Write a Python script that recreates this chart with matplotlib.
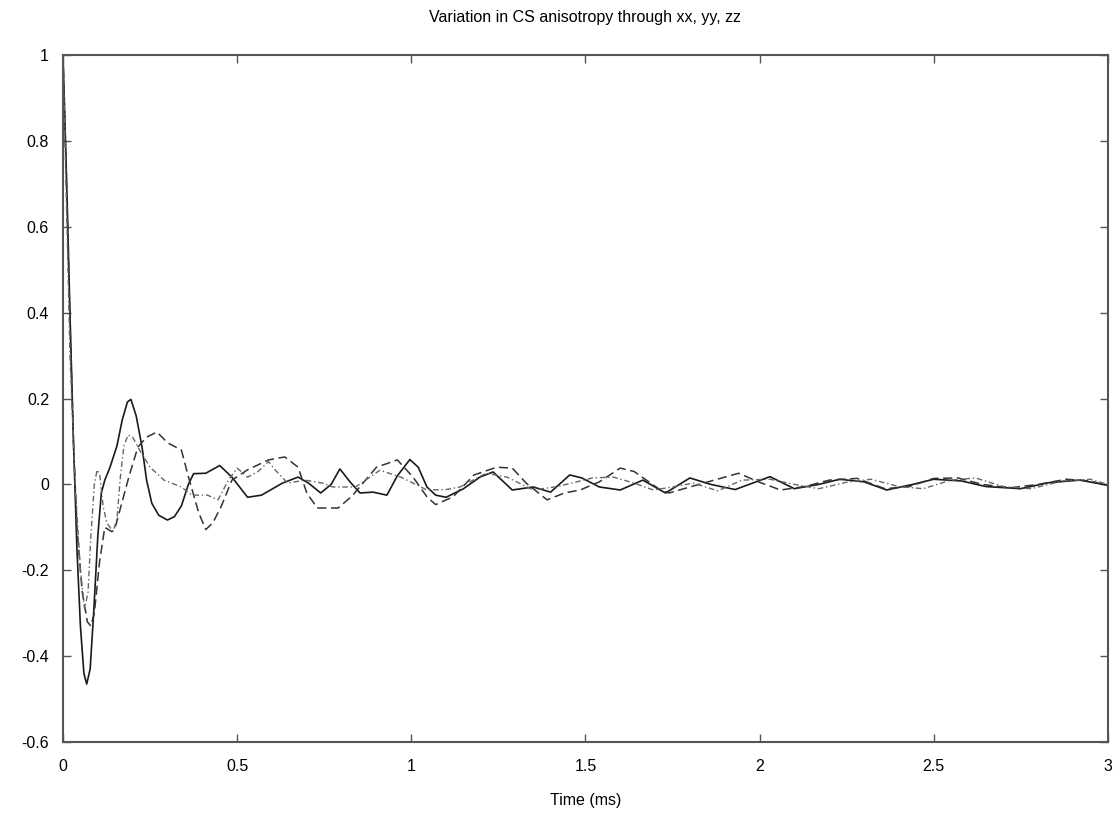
import matplotlib
matplotlib.use("Agg")
import matplotlib.pyplot as plt

title = "Variation in CS anisotropy through xx, yy, zz"
xlabel = "Time (ms)"
xticks = [0, 0.5, 1, 1.5, 2, 2.5, 3]
xtick_labels = ["0", "0.5", "1", "1.5", "2", "2.5", "3"]
yticks = [-0.6, -0.4, -0.2, 0, 0.2, 0.4, 0.6, 0.8, 1]
ytick_labels = ["-0.6", "-0.4", "-0.2", "0", "0.2", "0.4", "0.6", "0.8", "1"]

# solid series
xx_t = [0.000, 0.010, 0.020, 0.030, 0.040, 0.050, 0.060, 0.068, 0.078, 0.088,
        0.100, 0.110, 0.120, 0.135, 0.155, 0.170, 0.185, 0.195, 0.210, 0.227,
        0.240, 0.255, 0.275, 0.300, 0.320, 0.340, 0.360, 0.375, 0.410, 0.450,
        0.485, 0.530, 0.570, 0.630, 0.675, 0.705, 0.740, 0.770, 0.795, 0.825,
        0.853, 0.890, 0.930, 0.960, 0.996, 1.020, 1.045, 1.070, 1.100, 1.150,
        1.197, 1.235, 1.290, 1.350, 1.400, 1.455, 1.490, 1.540, 1.600, 1.665,
        1.730, 1.800, 1.860, 1.930, 2.030, 2.100, 2.170, 2.230, 2.300, 2.365,
        2.440, 2.500, 2.580, 2.650, 2.750, 2.830, 2.920, 3.000]
xx_v = [1.00, 0.72, 0.40, 0.10, -0.15, -0.33, -0.44, -0.465, -0.43, -0.30,
        -0.12, -0.02, 0.01, 0.04, 0.09, 0.15, 0.192, 0.198, 0.16, 0.087,
        0.01, -0.044, -0.072, -0.083, -0.075, -0.05, 0.00, 0.025, 0.026, 0.044,
        0.017, -0.03, -0.025, 0.003, 0.017, 0.003, -0.02, 0.00, 0.036, 0.005,
        -0.02, -0.018, -0.025, 0.02, 0.058, 0.04, -0.006, -0.025, -0.03, -0.01,
        0.017, 0.029, -0.013, -0.006, -0.018, 0.022, 0.015, -0.006, -0.013, 0.01,
        -0.02, 0.015, 0.0, -0.012, 0.018, -0.01, 0.0, 0.012, 0.006, -0.013,
        0.0, 0.012, 0.008, -0.005, -0.01, 0.004, 0.01, -0.002]

# dashed series
yy_t = [0.000, 0.010, 0.020, 0.030, 0.040, 0.055, 0.070, 0.080, 0.090, 0.105,
        0.120, 0.140, 0.150, 0.170, 0.190, 0.215, 0.240, 0.270, 0.300, 0.340,
        0.360, 0.390, 0.410, 0.430, 0.455, 0.485, 0.530, 0.590, 0.637, 0.675,
        0.700, 0.730, 0.790, 0.830, 0.900, 0.960, 1.005, 1.045, 1.070, 1.120,
        1.180, 1.245, 1.290, 1.330, 1.390, 1.440, 1.485, 1.540, 1.600, 1.640,
        1.675, 1.715, 1.740, 1.800, 1.870, 1.940, 2.000, 2.060, 2.130, 2.200,
        2.280, 2.360, 2.430, 2.500, 2.570, 2.640, 2.720, 2.800, 2.880, 2.950,
        3.000]
yy_v = [1.00, 0.70, 0.38, 0.10, -0.10, -0.25, -0.32, -0.33, -0.30, -0.18,
        -0.10, -0.11, -0.10, -0.04, 0.02, 0.087, 0.11, 0.122, 0.097, 0.08,
        0.018, -0.067, -0.105, -0.09, -0.05, 0.01, 0.034, 0.057, 0.064, 0.04,
        -0.02, -0.055, -0.055, -0.027, 0.04, 0.057, 0.017, -0.029, -0.047, -0.029,
        0.022, 0.04, 0.038, 0.003, -0.036, -0.02, -0.013, 0.006, 0.038, 0.03,
        0.01, -0.013, -0.02, -0.006, 0.01, 0.026, 0.005, -0.013, -0.005, 0.01,
        0.014, -0.01, -0.005, 0.014, 0.015, 0.0, -0.008, 0.0, 0.012, 0.008,
        -0.003]

# dash-dot series
zz_t = [0.000, 0.010, 0.020, 0.035, 0.050, 0.062, 0.072, 0.080, 0.090, 0.098,
        0.106, 0.115, 0.126, 0.144, 0.155, 0.165, 0.175, 0.187, 0.200, 0.220,
        0.250, 0.290, 0.340, 0.370, 0.415, 0.445, 0.475, 0.500, 0.530, 0.560,
        0.590, 0.610, 0.645, 0.695, 0.745, 0.775, 0.840, 0.910, 0.970, 1.045,
        1.100, 1.140, 1.215, 1.275, 1.350, 1.420, 1.520, 1.580, 1.640, 1.695,
        1.750, 1.810, 1.880, 1.950, 2.030, 2.100, 2.170, 2.250, 2.320, 2.400,
        2.470, 2.550, 2.620, 2.700, 2.780, 2.870, 2.950, 3.000]
zz_v = [1.00, 0.65, 0.30, 0.00, -0.20, -0.29, -0.25, -0.12, 0.00, 0.034,
        0.02, -0.05, -0.09, -0.11, -0.08, 0.02, 0.09, 0.115, 0.11, 0.08,
        0.04, 0.01, -0.006, -0.025, -0.025, -0.036, 0.01, 0.038, 0.017, 0.03,
        0.053, 0.033, 0.003, 0.01, 0.003, -0.006, -0.006, 0.033, 0.017, -0.013,
        -0.012, -0.006, 0.026, 0.017, -0.013, -0.005, 0.015, 0.017, 0.003, -0.013,
        -0.006, 0.003, -0.015, 0.01, 0.012, 0.0, -0.01, 0.005, 0.012, -0.005,
        -0.01, 0.01, 0.015, -0.005, -0.01, 0.008, 0.012, 0.0]

plt.rcParams['font.family'] = ['Liberation Sans', 'DejaVu Sans']

fig = plt.figure(figsize=(11.19, 8.13), dpi=100)
ax = fig.add_axes([0.0563, 0.0873, 0.9337, 0.845])

ax.plot(xx_t, xx_v, color='#1a1a1a', lw=1.2, ls='-')
ax.plot(yy_t, yy_v, color='#333333', lw=1.1, ls=(0, (6, 3)))
ax.plot(zz_t, zz_v, color='#666666', lw=1.0, ls=(0, (4, 2, 1, 2)))

ax.set_xlim(0, 3)
ax.set_ylim(-0.6, 1)
ax.set_xticks(xticks)
ax.set_xticklabels(xtick_labels)
ax.set_yticks(yticks)
ax.set_yticklabels(ytick_labels)
ax.tick_params(direction='in', length=6, width=1, colors='#555555',
               labelcolor='black', labelsize=11.5, top=True, right=True)
ax.tick_params(axis='x', pad=12)
ax.tick_params(axis='y', pad=10)
for s in ax.spines.values():
    s.set_color('#555555')
    s.set_linewidth(1.5)

ax.set_title(title, fontsize=11.5, pad=24)
ax.set_xlabel(xlabel, fontsize=11.5, labelpad=14)

fig.savefig("out.png", dpi=100)
